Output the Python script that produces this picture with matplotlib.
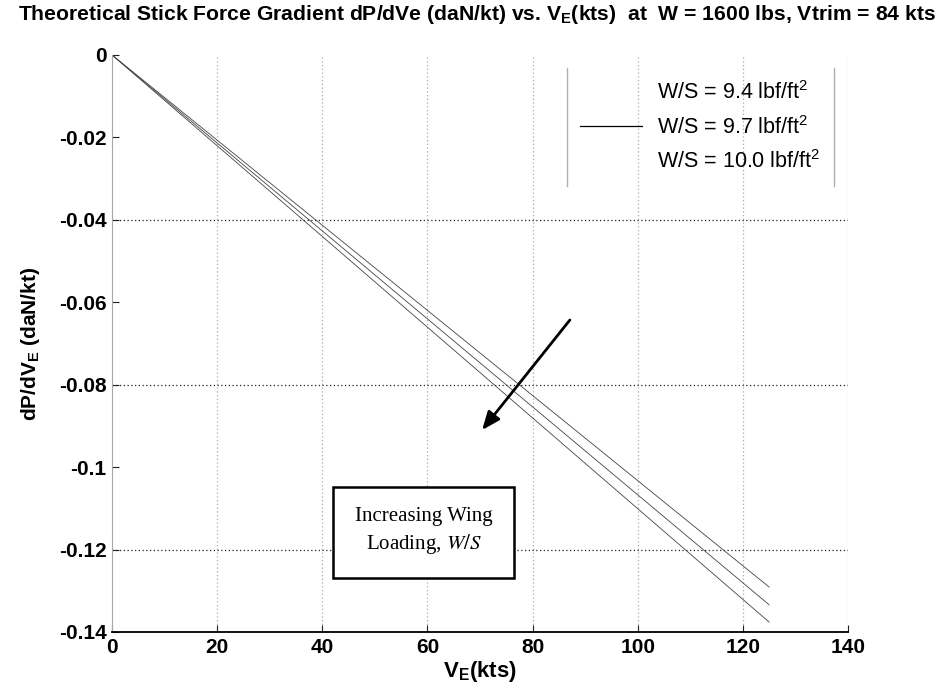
import matplotlib
matplotlib.use("Agg")
import matplotlib.pyplot as plt
from matplotlib.lines import Line2D
import numpy as np

plt.rcParams['font.family'] = ['Liberation Sans', 'DejaVu Sans']
plt.rcParams['mathtext.fontset'] = 'custom'
plt.rcParams['mathtext.rm'] = 'Liberation Sans'
plt.rcParams['mathtext.bf'] = 'Liberation Sans:bold'
plt.rcParams['mathtext.it'] = 'Liberation Sans:italic'

# equivalent airspeed (kts) and stick force gradient (daN/kt) for each wing loading
v_e = [0, 125]
grad_94 = [0, -0.1291]
grad_97 = [0, -0.1334]
grad_100 = [0, -0.1376]
labels = [r'W/S = 9.4 lbf/ft$^2$', r'W/S = 9.7 lbf/ft$^2$', r'W/S = 10.0 lbf/ft$^2$']

xticks = [0, 20, 40, 60, 80, 100, 120, 140]
yticks = [0, -0.02, -0.04, -0.06, -0.08, -0.1, -0.12, -0.14]
ytick_labels = ['0', '-0.02', '-0.04', '-0.06', '-0.08', '-0.1', '-0.12', '-0.14']

fig = plt.figure(figsize=(9.42, 6.96), dpi=100)
ax = fig.add_axes([0.1189, 0.092, 0.7813, 0.829])

for g in (grad_94, grad_97, grad_100):
    ax.plot(v_e, g, color='#444444', lw=0.6)

ax.set_xlim(0, 140)
ax.set_ylim(-0.14, 0)
ax.set_xticks(xticks)
ax.set_yticks(yticks)
ax.set_yticklabels(ytick_labels)
ax.tick_params(direction='in', length=5, labelsize=15, pad=4, color='#222222')
for lab in ax.get_xticklabels() + ax.get_yticklabels():
    lab.set_fontweight('bold')

# vertical grid light, horizontal grid on every other tick
for x in xticks[1:]:
    ax.axvline(x, color='#aaaaaa', lw=0.9, ls=(0, (1, 2)), zorder=0)
for y in yticks[2::2]:
    ax.axhline(y, color='#222222', lw=0.9, ls=(0, (1, 2)), zorder=0)

ax.spines['top'].set_visible(False)
ax.spines['right'].set_visible(False)
ax.spines['left'].set_color('#a8a8a8')
ax.spines['bottom'].set_color('black')
ax.spines['bottom'].set_linewidth(1.3)

ax.set_xlabel(r'V$_\mathbf{E}$(kts)', fontsize=16, fontweight='bold', labelpad=2)
ax.set_ylabel(r'dP/dV$_\mathbf{E}$ (daN/kt)', fontsize=15, fontweight='bold', labelpad=12)
fig.suptitle(r'Theoretical Stick Force Gradient dP/dVe (daN/kt) vs. V$_\mathbf{E}$(kts)  at  W = 1600 lbs, Vtrim = 84 kts',
             fontsize=15.2, fontweight='bold', x=0.506, y=0.995)

handles = [Line2D([], [], color='none'),
           Line2D([], [], color='black', lw=0.9),
           Line2D([], [], color='none')]
leg = ax.legend(handles, labels, loc='upper right', bbox_to_anchor=(0.995, 0.996),
                frameon=False, fontsize=15.5, handlelength=2.9, handletextpad=0.7,
                labelspacing=0.55, borderpad=0.6)

# legend box shows only its side edges
fig.canvas.draw()
bb = leg.get_window_extent().transformed(fig.transFigure.inverted())
for xe in (bb.x0, bb.x1):
    fig.add_artist(Line2D([xe, xe], [bb.y0, bb.y1], transform=fig.transFigure,
                          color='#b0b0b0', lw=1.0))

ax.annotate('', xy=(70.4, -0.091), xytext=(87.1, -0.0643),
            arrowprops=dict(arrowstyle='-|>,head_length=1.1,head_width=0.45',
                            color='black', lw=2.0, shrinkA=0, shrinkB=0))

ax.text(59.3, -0.1157, 'Increasing Wing\nLoading, $\\it{W/S}$', fontsize=15,
        family='Liberation Serif', ha='center', va='center', linespacing=1.35,
        math_fontfamily='stix',
        bbox=dict(boxstyle='square,pad=1.05', fc='white', ec='black', lw=1.8))

fig.savefig('out.png', dpi=100)
